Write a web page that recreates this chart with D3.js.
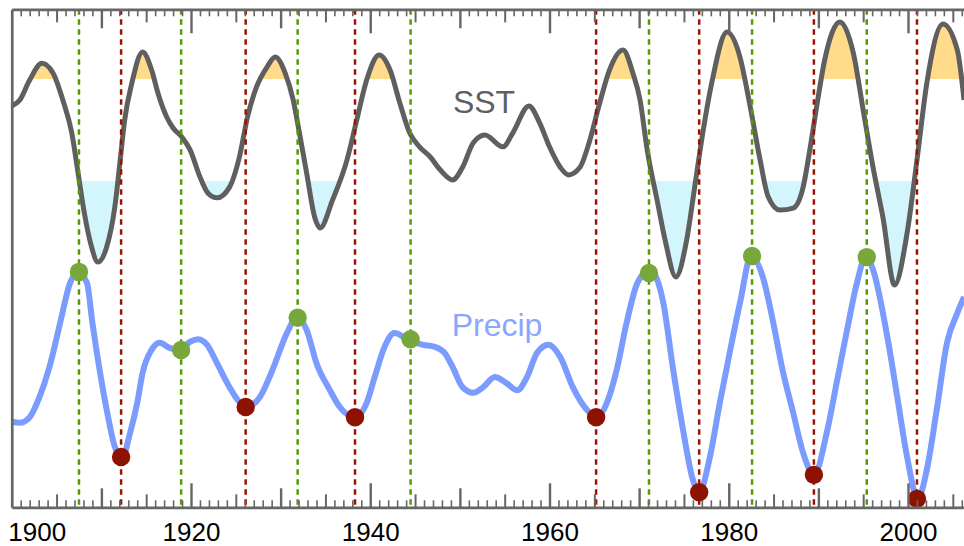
<!DOCTYPE html>
<html><head><meta charset="utf-8">
<script src="https://cdn.jsdelivr.net/npm/d3@7"></script>
<style>html,body{margin:0;padding:0;background:#fff;}svg{display:block;}</style>
</head><body>
<svg id="chart" width="964" height="546"></svg>
<script>
// ---------- data ----------
const sstYear = [1900.0,1900.9,1902.0,1903.35,1904.6,1905.7,1906.7,1907.4,1908.1,1908.9,1909.6,1910.6,1911.5,1912.1,1912.6,1913.4,1914.6,1915.6,1916.3,1917.3,1918.0,1919.0,1919.9,1921.0,1921.9,1922.9,1924.3,1925.4,1926.3,1927.3,1928.5,1929.4,1930.5,1931.4,1932.1,1932.9,1933.8,1934.4,1935.8,1937.4,1938.5,1939.6,1941.0,1942.2,1943.3,1944.4,1945.5,1946.7,1947.8,1949.2,1950.3,1951.5,1952.8,1954.8,1955.9,1957.7,1958.9,1960.0,1961.2,1962.1,1963.4,1964.5,1965.6,1966.7,1968.2,1969.3,1970.1,1970.9,1972.0,1972.9,1974.1,1975.3,1976.2,1977.1,1978.1,1979.8,1981.25,1982.4,1983.5,1984.4,1985.7,1987.2,1988.3,1989.1,1989.8,1990.7,1992.4,1993.9,1995.0,1996.1,1997.2,1998.5,1999.9,2001.0,2002.1,2003.9,2005.5,2006.25];
const sstValue = [0.47,0.59,0.98,1.31,1.12,0.59,-0.06,-0.84,-1.63,-2.29,-2.59,-2.29,-1.51,-0.59,0.20,0.92,1.53,1.18,0.73,0.25,0.04,-0.14,-0.39,-0.92,-1.24,-1.33,-1.12,-0.53,0.25,0.84,1.24,1.43,1.12,0.59,-0.06,-0.84,-1.71,-1.92,-1.37,-0.59,0.20,0.98,1.47,1.18,0.53,-0.06,-0.33,-0.53,-0.78,-0.98,-0.73,-0.25,-0.10,-0.33,-0.06,0.47,0.14,-0.33,-0.73,-0.88,-0.73,-0.20,0.53,1.18,1.57,1.12,0.59,-0.39,-1.37,-2.16,-2.88,-2.16,-1.12,-0.06,0.92,1.92,1.43,0.45,-0.59,-1.31,-1.57,-1.53,-1.12,-0.33,0.45,1.37,2.12,1.51,0.39,-0.73,-1.71,-3.04,-2.02,-0.59,0.92,2.08,1.57,0.59];

const precipYear = [1900.0,1900.9,1902.0,1903.1,1904.2,1905.4,1906.5,1907.4,1908.4,1909.0,1909.8,1910.6,1911.5,1912.3,1913.2,1914.0,1914.6,1915.6,1916.5,1917.6,1918.75,1919.9,1920.8,1921.8,1922.9,1924.3,1925.2,1926.2,1927.7,1929.1,1930.7,1931.8,1932.9,1934.0,1935.5,1936.6,1938.3,1939.6,1940.5,1941.6,1942.7,1944.3,1945.9,1947.2,1948.3,1949.2,1950.3,1951.5,1952.6,1953.9,1955.2,1956.4,1957.5,1958.6,1959.9,1961.2,1962.6,1964.2,1965.3,1966.4,1967.5,1968.6,1969.8,1971.2,1972.7,1973.8,1974.9,1976.0,1976.7,1977.9,1979.0,1980.1,1981.25,1982.5,1983.8,1984.9,1986.0,1987.2,1988.3,1989.5,1991.0,1992.1,1993.2,1994.3,1995.3,1996.1,1997.7,1998.8,1999.9,2001.1,2002.1,2003.2,2004.35,2005.5,2006.25];
const precipValue = [-0.82,-0.84,-0.73,-0.33,0.25,1.12,1.90,2.12,1.90,1.12,0.20,-0.59,-1.31,-1.53,-1.04,-0.45,0.14,0.59,0.73,0.63,0.59,0.75,0.80,0.69,0.33,-0.14,-0.39,-0.53,-0.33,0.20,0.92,1.22,0.98,0.33,-0.20,-0.53,-0.73,-0.45,0.06,0.65,0.92,0.78,0.69,0.65,0.53,0.25,-0.14,-0.25,-0.14,0.06,-0.06,-0.20,0.06,0.53,0.69,0.45,-0.14,-0.59,-0.73,-0.45,0.20,1.12,1.90,2.16,1.51,0.20,-0.98,-1.96,-2.20,-1.51,-0.45,0.53,1.51,2.43,2.02,1.18,0.20,-0.65,-1.43,-1.86,-0.98,0.00,0.98,1.90,2.43,2.16,0.84,-0.33,-1.51,-2.33,-1.76,-0.59,0.73,1.31,1.63];

// precipitation maxima (wet) and minima (dry) events
const wetYears  = [1907.5, 1918.9, 1931.9, 1944.5, 1971.1, 1982.6, 1995.4];
const wetValues = [2.12, 0.59, 1.22, 0.80, 2.10, 2.43, 2.41];
const dryYears  = [1912.2, 1926.1, 1938.3, 1965.2, 1976.7, 1989.5, 2001.0];
const dryValues = [-1.51, -0.53, -0.73, -0.73, -2.20, -1.86, -2.33];

const labelYears = [1900, 1920, 1940, 1960, 1980, 2000];
const sstThreshold = 1;

// ---------- layout ----------
const W = 964, H = 546;
const plotTop = 9.3, plotBottom = 507.3, plotLeft = 11.75;
const x = d3.scaleLinear().domain([1900, 2007]).range([plotLeft, plotLeft + 107 * 8.9625]);
const ySST = d3.scaleLinear().domain([-1, 1]).range([181, 79]);
const yP = d3.scaleLinear().domain([-1, 1]).range([431, 329]);

const sst = sstYear.map((t, i) => ({t, v: sstValue[i]}));
const pr = precipYear.map((t, i) => ({t, v: precipValue[i]}));
const wet = wetYears.map((t, i) => ({t, v: wetValues[i]}));
const dry = dryYears.map((t, i) => ({t, v: dryValues[i]}));

const svg = d3.select("#chart");
const defs = svg.append("defs");
defs.append("clipPath").attr("id", "plot").append("rect")
  .attr("x", plotLeft).attr("y", plotTop).attr("width", W - plotLeft).attr("height", plotBottom - plotTop);
defs.append("clipPath").attr("id", "above").append("rect")
  .attr("x", 0).attr("y", 0).attr("width", W).attr("height", ySST(sstThreshold));
defs.append("clipPath").attr("id", "below").append("rect")
  .attr("x", 0).attr("y", ySST(-sstThreshold)).attr("width", W).attr("height", H);

const curve = d3.curveMonotoneX;
const g = svg.append("g").attr("clip-path", "url(#plot)");

// fills
g.append("g").attr("clip-path", "url(#above)").append("path").datum(sst)
  .attr("fill", "#ffdb8b")
  .attr("d", d3.area().x(d => x(d.t)).y0(ySST(sstThreshold)).y1(d => ySST(d.v)).curve(curve));
g.append("g").attr("clip-path", "url(#below)").append("path").datum(sst)
  .attr("fill", "#d3f5fc")
  .attr("d", d3.area().x(d => x(d.t)).y0(ySST(-sstThreshold)).y1(d => ySST(d.v)).curve(curve));

// lines
g.append("path").datum(sst).attr("fill", "none").attr("stroke", "#5f5f5f")
  .attr("stroke-width", 5).attr("stroke-linejoin", "round")
  .attr("d", d3.line().x(d => x(d.t)).y(d => ySST(d.v)).curve(curve));
g.append("path").datum(pr).attr("fill", "none").attr("stroke", "#7b9bff")
  .attr("stroke-width", 6).attr("stroke-linejoin", "round")
  .attr("d", d3.line().x(d => x(d.t)).y(d => yP(d.v)).curve(curve));

// dashed event lines
g.selectAll("line.wet").data(wet).join("line").attr("class", "wet")
  .attr("x1", d => x(d.t)).attr("x2", d => x(d.t)).attr("y1", plotTop).attr("y2", plotBottom)
  .attr("stroke", "#559a00").attr("stroke-width", 2.5).attr("stroke-dasharray", "5.5,4.5");
g.selectAll("line.dry").data(dry).join("line").attr("class", "dry")
  .attr("x1", d => x(d.t)).attr("x2", d => x(d.t)).attr("y1", plotTop).attr("y2", plotBottom)
  .attr("stroke", "#9b1300").attr("stroke-width", 2.5).attr("stroke-dasharray", "5.5,4.5");

// dots
g.selectAll("circle.wet").data(wet).join("circle").attr("class", "wet")
  .attr("cx", d => x(d.t)).attr("cy", d => yP(d.v)).attr("r", 9.2).attr("fill", "#78a83b");
g.selectAll("circle.dry").data(dry).join("circle").attr("class", "dry")
  .attr("cx", d => x(d.t)).attr("cy", d => yP(d.v)).attr("r", 9.2).attr("fill", "#8e1200");

// series labels
svg.append("text").attr("x", 484).attr("y", 112.5).attr("text-anchor", "middle")
  .attr("font-family", "'Liberation Sans', Arial, Helvetica, sans-serif").attr("font-size", 32)
  .attr("fill", "#5f5f5f").text("SST");
svg.append("text").attr("x", 497).attr("y", 336).attr("text-anchor", "middle")
  .attr("font-family", "'Liberation Sans', Arial, Helvetica, sans-serif").attr("font-size", 32)
  .attr("fill", "#8ba6ff").text("Precip");

// ticks
const tickYears = d3.range(1901, 2007);
const tickLen = y => y % 20 === 0 ? 24 : y % 10 === 0 ? 19 : y % 5 === 0 ? 13 : 7;
const tickW = y => y % 10 === 0 ? 2.4 : y % 5 === 0 ? 2 : 1.6;
const frameColor = "#666";

const bottomAx = svg.append("g").attr("transform", `translate(0,${plotBottom})`)
  .call(d3.axisBottom(x).tickValues(tickYears).tickSizeInner(-7).tickSizeOuter(0).tickFormat(""));
bottomAx.selectAll(".tick line").attr("y2", d => -tickLen(d)).attr("stroke", frameColor).attr("stroke-width", d => tickW(d));
bottomAx.select(".domain").attr("stroke", frameColor).attr("stroke-width", 2.7);

const topAx = svg.append("g").attr("transform", `translate(0,${plotTop})`)
  .call(d3.axisTop(x).tickValues(tickYears).tickSizeInner(-7).tickSizeOuter(0).tickFormat(""));
topAx.selectAll(".tick line").attr("y2", d => tickLen(d)).attr("stroke", frameColor).attr("stroke-width", d => tickW(d));
topAx.select(".domain").attr("stroke", frameColor).attr("stroke-width", 2.7);

const yFrame = d3.scaleLinear().domain([0, 1]).range([plotBottom, plotTop]);
const leftAx = svg.append("g").attr("transform", `translate(${plotLeft},0)`)
  .call(d3.axisLeft(yFrame).tickValues([]).tickSizeOuter(0));
leftAx.select(".domain").attr("stroke", frameColor).attr("stroke-width", 2.7);

// year labels
const lab = svg.append("g").attr("transform", `translate(0,${plotBottom})`)
  .call(d3.axisBottom(x).tickValues(labelYears).tickSize(0).tickFormat(d3.format("d")));
lab.select(".domain").remove();
lab.selectAll("text").attr("y", 33.7).attr("dy", 0)
  .attr("font-family", "'Liberation Sans', Arial, Helvetica, sans-serif").attr("font-size", 26)
  .attr("fill", "#000")
  .attr("text-anchor", d => d === 1900 ? "start" : "middle")
  .attr("dx", d => d === 1900 ? -4 : 0);
</script>
</body></html>
